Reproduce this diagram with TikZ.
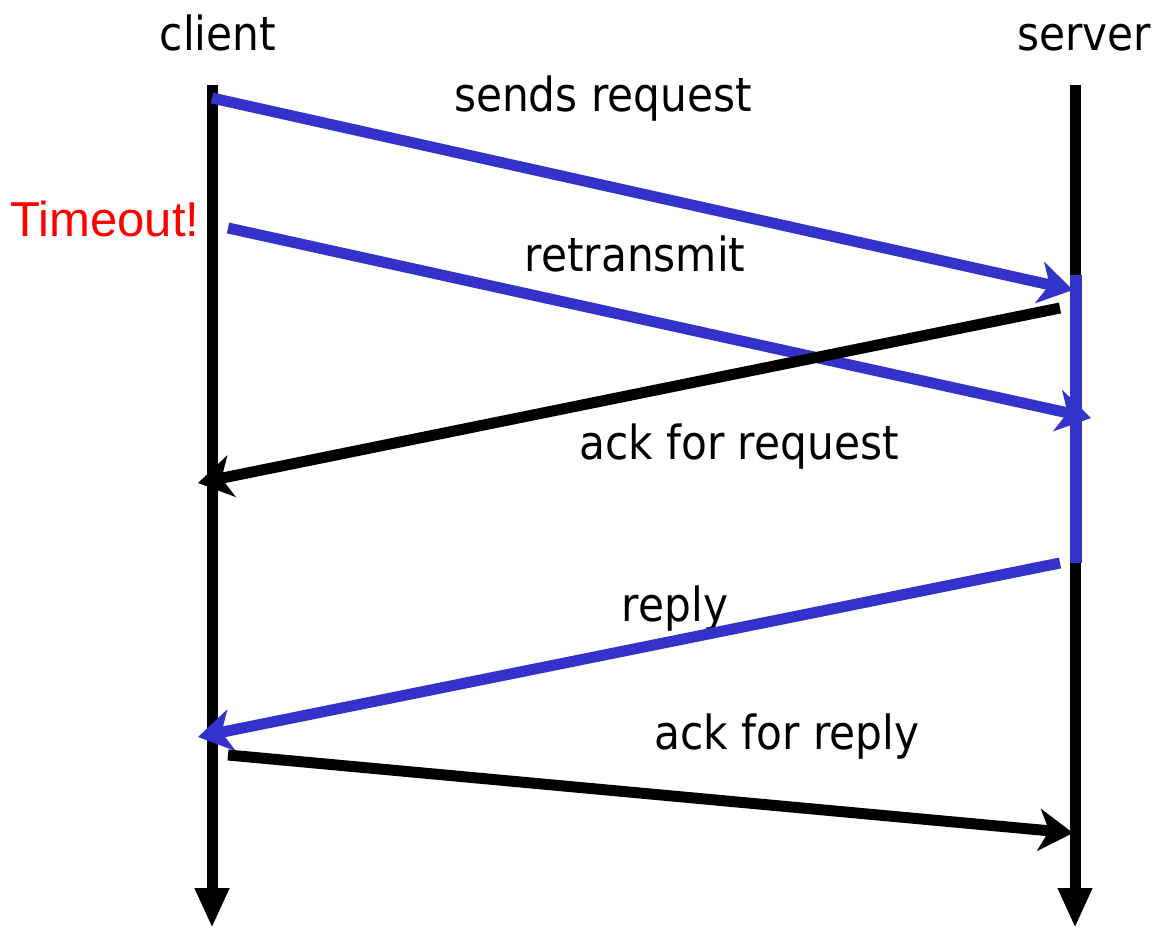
\documentclass[tikz,border=0pt]{standalone}
\usepackage{fontspec}
\setmainfont{DejaVu Sans}[FakeStretch=0.9]
\newfontfamily\timeoutfont{Liberation Sans}
\usetikzlibrary{arrows.meta}
\definecolor{msgblue}{RGB}{51,51,204}
\definecolor{tored}{RGB}{255,0,0}
\tikzset{
  lifeline/.style={line width=5.5pt, -{Stealth[length=20pt,width=16pt,inset=0pt]}},
  msg/.style={line width=5.5pt, -{Stealth[length=17pt,width=21pt,inset=5pt]}},
  lbl/.style={font=\fontsize{23.5}{26}\selectfont, inner sep=0pt, anchor=base},
}
\begin{document}
\begin{tikzpicture}[x=0.5pt,y=-0.5pt]
\useasboundingbox (0,0) rectangle (1162,929);
% lifelines
\coordinate (cTop) at (212,85);
\coordinate (cBot) at (212,928);
\coordinate (sTop) at (1075,85);
\coordinate (sBot) at (1075,928);
\draw[lifeline] (cTop) -- (cBot);
\draw[lifeline] (sTop) -- (sBot);
% server busy bar
\coordinate (busyA) at (1076,275);
\coordinate (busyB) at (1076,563);
\draw[msgblue, line width=6pt] (busyA) -- (busyB);
% labels
\node[lbl] (client) at (218,51) {client};
\node[lbl] (server) at (1084,51) {server};
\node[lbl] (lsend) at (603,112) {sends request};
\node[lbl, text=tored, font=\timeoutfont\fontsize{24.5}{26}\selectfont] (ltimeout) at (105,237) {Timeout!};
\node[lbl] (lretx) at (635,272) {retransmit};
\node[lbl] (lackreq) at (739,460) {ack for request};
\node[lbl] (lreply) at (675,622) {reply};
\node[lbl] (lackrep) at (787,750) {ack for reply};
% message endpoints
\coordinate (m1a) at (212,98);
\coordinate (m1b) at (1073,290);
\coordinate (m2a) at (228,228);
\coordinate (m2b) at (1091,418);
\coordinate (m3a) at (1060,308);
\coordinate (m3b) at (198,483);
\coordinate (m4a) at (1060,563);
\coordinate (m4b) at (198,737);
\coordinate (m5a) at (228,755);
\coordinate (m5b) at (1073,833);
\draw[msg, msgblue] (m1a) -- (m1b);
\draw[msg, msgblue] (m2a) -- (m2b);
\draw[msg] (m3a) -- (m3b);
\draw[msg, msgblue] (m4a) -- (m4b);
\draw[msg] (m5a) -- (m5b);
\end{tikzpicture}
\end{document}
